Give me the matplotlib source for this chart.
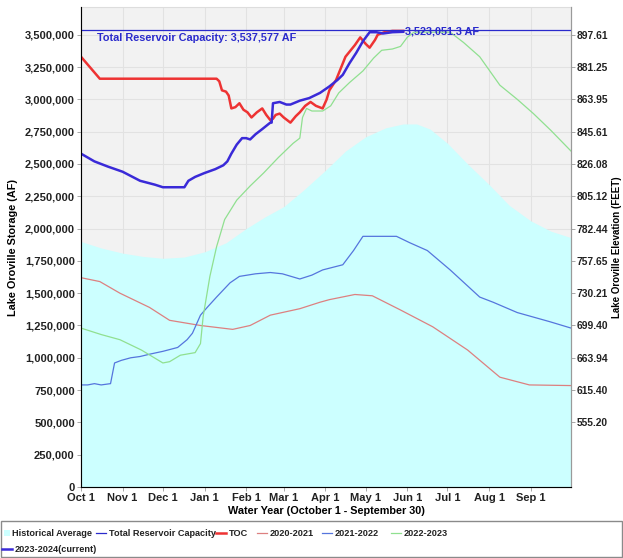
import matplotlib
matplotlib.use("Agg")
import matplotlib.pyplot as plt
from matplotlib.lines import Line2D
from matplotlib.patches import Rectangle
import numpy as np

# -------------------------------
# Data (day of water year, storage in AF)
# -------------------------------
month_days = [0, 31, 61, 92, 123, 151, 182, 212, 243, 273, 304, 335]
month_labels = ["Oct 1", "Nov 1", "Dec 1", "Jan 1", "Feb 1", "Mar 1",
                "Apr 1", "May 1", "Jun 1", "Jul 1", "Aug 1", "Sep 1"]

storage_ticks = [0, 250000, 500000, 750000, 1000000, 1250000, 1500000, 1750000,
                 2000000, 2250000, 2500000, 2750000, 3000000, 3250000, 3500000]
elev_ticks = [500000, 750000, 1000000, 1250000, 1500000, 1750000, 2000000,
              2250000, 2500000, 2750000, 3000000, 3250000, 3500000]
elev_labels = ["555.20", "615.40", "663.94", "699.40", "730.21", "757.65", "782.44",
               "805.12", "826.08", "845.61", "863.95", "881.25", "897.61"]

capacity = 3537577
current_last = 3523051.3

hist_days = [0, 15, 31, 46, 61, 77, 92, 108, 123, 137, 151, 166, 182, 197, 212,
             227, 240, 250, 260, 273, 288, 304, 319, 335, 350, 365]
hist_vals = [1.90, 1.85, 1.81, 1.785, 1.77, 1.78, 1.82, 1.89, 2.00, 2.09, 2.17,
             2.30, 2.45, 2.60, 2.71, 2.78, 2.81, 2.81, 2.77, 2.66, 2.50, 2.34,
             2.18, 2.06, 1.98, 1.93]

toc_days = [0, 14, 101, 103, 105, 108, 110, 112, 115, 118, 121, 124, 127, 131,
            135, 138, 141, 143, 145, 148, 151, 156, 160, 163, 167, 171, 175, 180,
            183, 185, 190, 197, 204, 208, 212, 215, 219, 221, 226, 232, 240]
toc_vals = [3.33, 3.16, 3.16, 3.14, 3.07, 3.06, 3.03, 2.93, 2.94, 2.97, 2.92,
            2.90, 2.86, 2.90, 2.93, 2.88, 2.84, 2.85, 2.88, 2.89, 2.86, 2.82,
            2.87, 2.90, 2.95, 2.98, 2.95, 2.93, 3.00, 3.07, 3.15, 3.33, 3.42,
            3.48, 3.43, 3.40, 3.46, 3.50, 3.52, 3.53, 3.53]

wy2021_days = [0, 14, 29, 51, 66, 89, 113, 126, 141, 163, 178, 185, 204, 217,
               238, 262, 288, 312, 334, 365]
wy2021_vals = [1.62, 1.59, 1.50, 1.39, 1.29, 1.25, 1.22, 1.25, 1.33, 1.38, 1.43,
               1.45, 1.49, 1.48, 1.37, 1.24, 1.06, 0.85, 0.79, 0.785]

wy2022_days = [0, 5, 10, 15, 22, 25, 30, 37, 44, 52, 61, 72, 79, 83, 89, 94,
               101, 111, 118, 130, 141, 150, 163, 172, 180, 195, 203, 210, 225,
               235, 245, 258, 275, 297, 307, 325, 349, 365]
wy2022_vals = [0.79, 0.79, 0.80, 0.79, 0.80, 0.96, 0.98, 1.00, 1.01, 1.03, 1.05,
               1.08, 1.14, 1.19, 1.33, 1.39, 1.47, 1.58, 1.63, 1.65, 1.66, 1.65,
               1.61, 1.64, 1.68, 1.72, 1.83, 1.94, 1.94, 1.94, 1.89, 1.83, 1.68,
               1.47, 1.43, 1.35, 1.28, 1.23]

wy2023_days = [0, 15, 29, 45, 61, 66, 74, 85, 89, 91, 96, 101, 107, 116, 126,
               136, 147, 158, 163, 165, 168, 172, 180, 186, 192, 200, 210, 218,
               224, 232, 238, 243, 248, 260, 275, 285, 297, 312, 325, 337, 350, 365]
wy2023_vals = [1.23, 1.18, 1.14, 1.06, 0.96, 0.97, 1.02, 1.04, 1.11, 1.32, 1.63,
               1.86, 2.07, 2.22, 2.33, 2.43, 2.55, 2.66, 2.70, 2.86, 2.93, 2.91,
               2.91, 2.95, 3.05, 3.13, 3.22, 3.32, 3.38, 3.39, 3.41, 3.48, 3.52,
               3.52, 3.52, 3.44, 3.33, 3.11, 3.00, 2.89, 2.76, 2.60]

wy2024_days = [0, 10, 20, 31, 44, 55, 61, 70, 77, 80, 85, 92, 100, 106, 109,
               112, 116, 120, 123, 126, 130, 135, 141, 142, 143, 148, 153, 156,
               163, 170, 178, 185, 191, 195, 200, 205, 210, 215, 220, 225, 232, 240]
wy2024_vals = [2.58, 2.52, 2.48, 2.44, 2.37, 2.34, 2.32, 2.32, 2.32, 2.37, 2.40,
               2.43, 2.46, 2.49, 2.52, 2.58, 2.65, 2.70, 2.70, 2.69, 2.73, 2.77,
               2.82, 2.82, 2.97, 2.98, 2.96, 2.96, 2.99, 3.01, 3.05, 3.10, 3.15,
               3.19, 3.28, 3.36, 3.45, 3.52, 3.52, 3.51, 3.52, 3.523051]

# -------------------------------
# Styles
# -------------------------------
plt.rcParams['font.family'] = ['Liberation Sans', 'DejaVu Sans']
plt.rcParams['font.weight'] = 'bold'

c_hist = '#ccffff'
c_cap = '#2a2acc'
c_toc = '#ee3333'
c_2021 = '#dd8080'
c_2022 = '#5575dd'
c_2023 = '#90e090'
c_2024 = '#3a2ad8'

M = 1e6

fig = plt.figure(figsize=(6.23, 5.58), dpi=100)
ax = fig.add_axes([81 / 623, 1 - 487 / 558, 490 / 623, 480 / 558])
ax.set_facecolor('#f2f2f2')

ax.set_xlim(0, 365)
ax.set_ylim(0, 3715000)

ax.grid(True, color='#e2e2e2', linewidth=0.8, zorder=0)
ax.set_axisbelow(True)

# historical average area
ax.fill_between(hist_days, 0, np.array(hist_vals) * M, color=c_hist, lw=0, zorder=1)

# yearly traces
ax.plot(wy2021_days, np.array(wy2021_vals) * M, color=c_2021, lw=0.9, zorder=3)
ax.plot(wy2022_days, np.array(wy2022_vals) * M, color=c_2022, lw=0.9, zorder=3)
ax.plot(wy2023_days, np.array(wy2023_vals) * M, color=c_2023, lw=0.9, zorder=3)
ax.plot(toc_days, np.array(toc_vals) * M, color=c_toc, lw=1.8, zorder=4)
ax.plot(wy2024_days, np.array(wy2024_vals) * M, color=c_2024, lw=1.8, zorder=5)

# capacity line and labels
ax.axhline(capacity, color=c_cap, lw=0.9, zorder=6)
ax.text(12, capacity - 25000, "Total Reservoir Capacity: 3,537,577 AF",
        color=c_cap, fontsize=7.8, fontweight='bold', va='top', zorder=7)
ax.text(wy2024_days[-1] + 1, current_last, f"{current_last:,.1f} AF",
        color=c_cap, fontsize=7.8, fontweight='bold', va='center', zorder=7)

# axes / ticks
ax.set_xticks(month_days)
ax.set_xticklabels(month_labels)
ax.set_yticks(storage_ticks)
ax.set_yticklabels([f"{v:,}" for v in storage_ticks])
ax.tick_params(axis='both', labelsize=8, length=3, width=0.6, color='#999999',
               pad=1.5, labelcolor='#222222')
for side in ['left', 'bottom', 'right']:
    ax.spines[side].set_color('#9a9a9a')
ax.spines['top'].set_color('#dddddd')

ax.set_xlabel("Water Year (October 1 - September 30)", fontsize=7.8,
              fontweight='bold', labelpad=2)
ax.set_ylabel("Lake Oroville Storage (AF)", fontsize=7.8, fontweight='bold',
              labelpad=5)

ax2 = ax.twinx()
ax2.set_ylim(ax.get_ylim())
ax2.set_yticks(elev_ticks)
ax2.set_yticklabels(elev_labels)
ax2.tick_params(axis='y', labelsize=7.4, length=3, width=0.6, color='#999999',
                pad=1.2, labelcolor='#222222')
ax2.spines['right'].set_color('#9a9a9a')
ax2.spines['top'].set_visible(False)
ax2.set_ylabel("Lake Oroville Elevation (FEET)", fontsize=7.0, fontweight='bold')
ax2.yaxis.set_label_coords((612 - 81) / 490, 0.5)

# -------------------------------
# Legend (drawn by hand in figure pixels)
# -------------------------------
W, H = 623, 558
fig.patches.append(Rectangle((1 / W, 1 - 557 / H), 621 / W, 36 / H,
                             transform=fig.transFigure, facecolor='white',
                             edgecolor='#8a8a8a', lw=1.0))

def legend_item(x, y, color, lw, label, line=True):
    if line:
        fig.lines.append(Line2D([x / W, (x + 10) / W], [1 - y / H, 1 - y / H],
                                transform=fig.transFigure, color=color, lw=lw))
    fig.text((x + 13) / W, 1 - y / H, label, fontsize=6.6, fontweight='bold',
             va='center', ha='left', color='#222222')

row1, row2 = 533, 549
fig.patches.append(Rectangle((4 / W, 1 - (row1 + 3) / H), 6 / W, 6 / H,
                             transform=fig.transFigure, facecolor=c_hist, lw=0))
legend_item(-1, row1, c_hist, 0, "Historical Average", line=False)
legend_item(96, row1, c_cap, 0.9, "Total Reservoir Capacity")
legend_item(216, row1, c_toc, 1.8, "TOC")
legend_item(257, row1, c_2021, 0.9, "2020-2021")
legend_item(322, row1, c_2022, 0.9, "2021-2022")
legend_item(391, row1, c_2023, 0.9, "2022-2023")
legend_item(2, row2, c_2024, 1.8, "2023-2024(current)")

fig.savefig("out.png", dpi=100)
